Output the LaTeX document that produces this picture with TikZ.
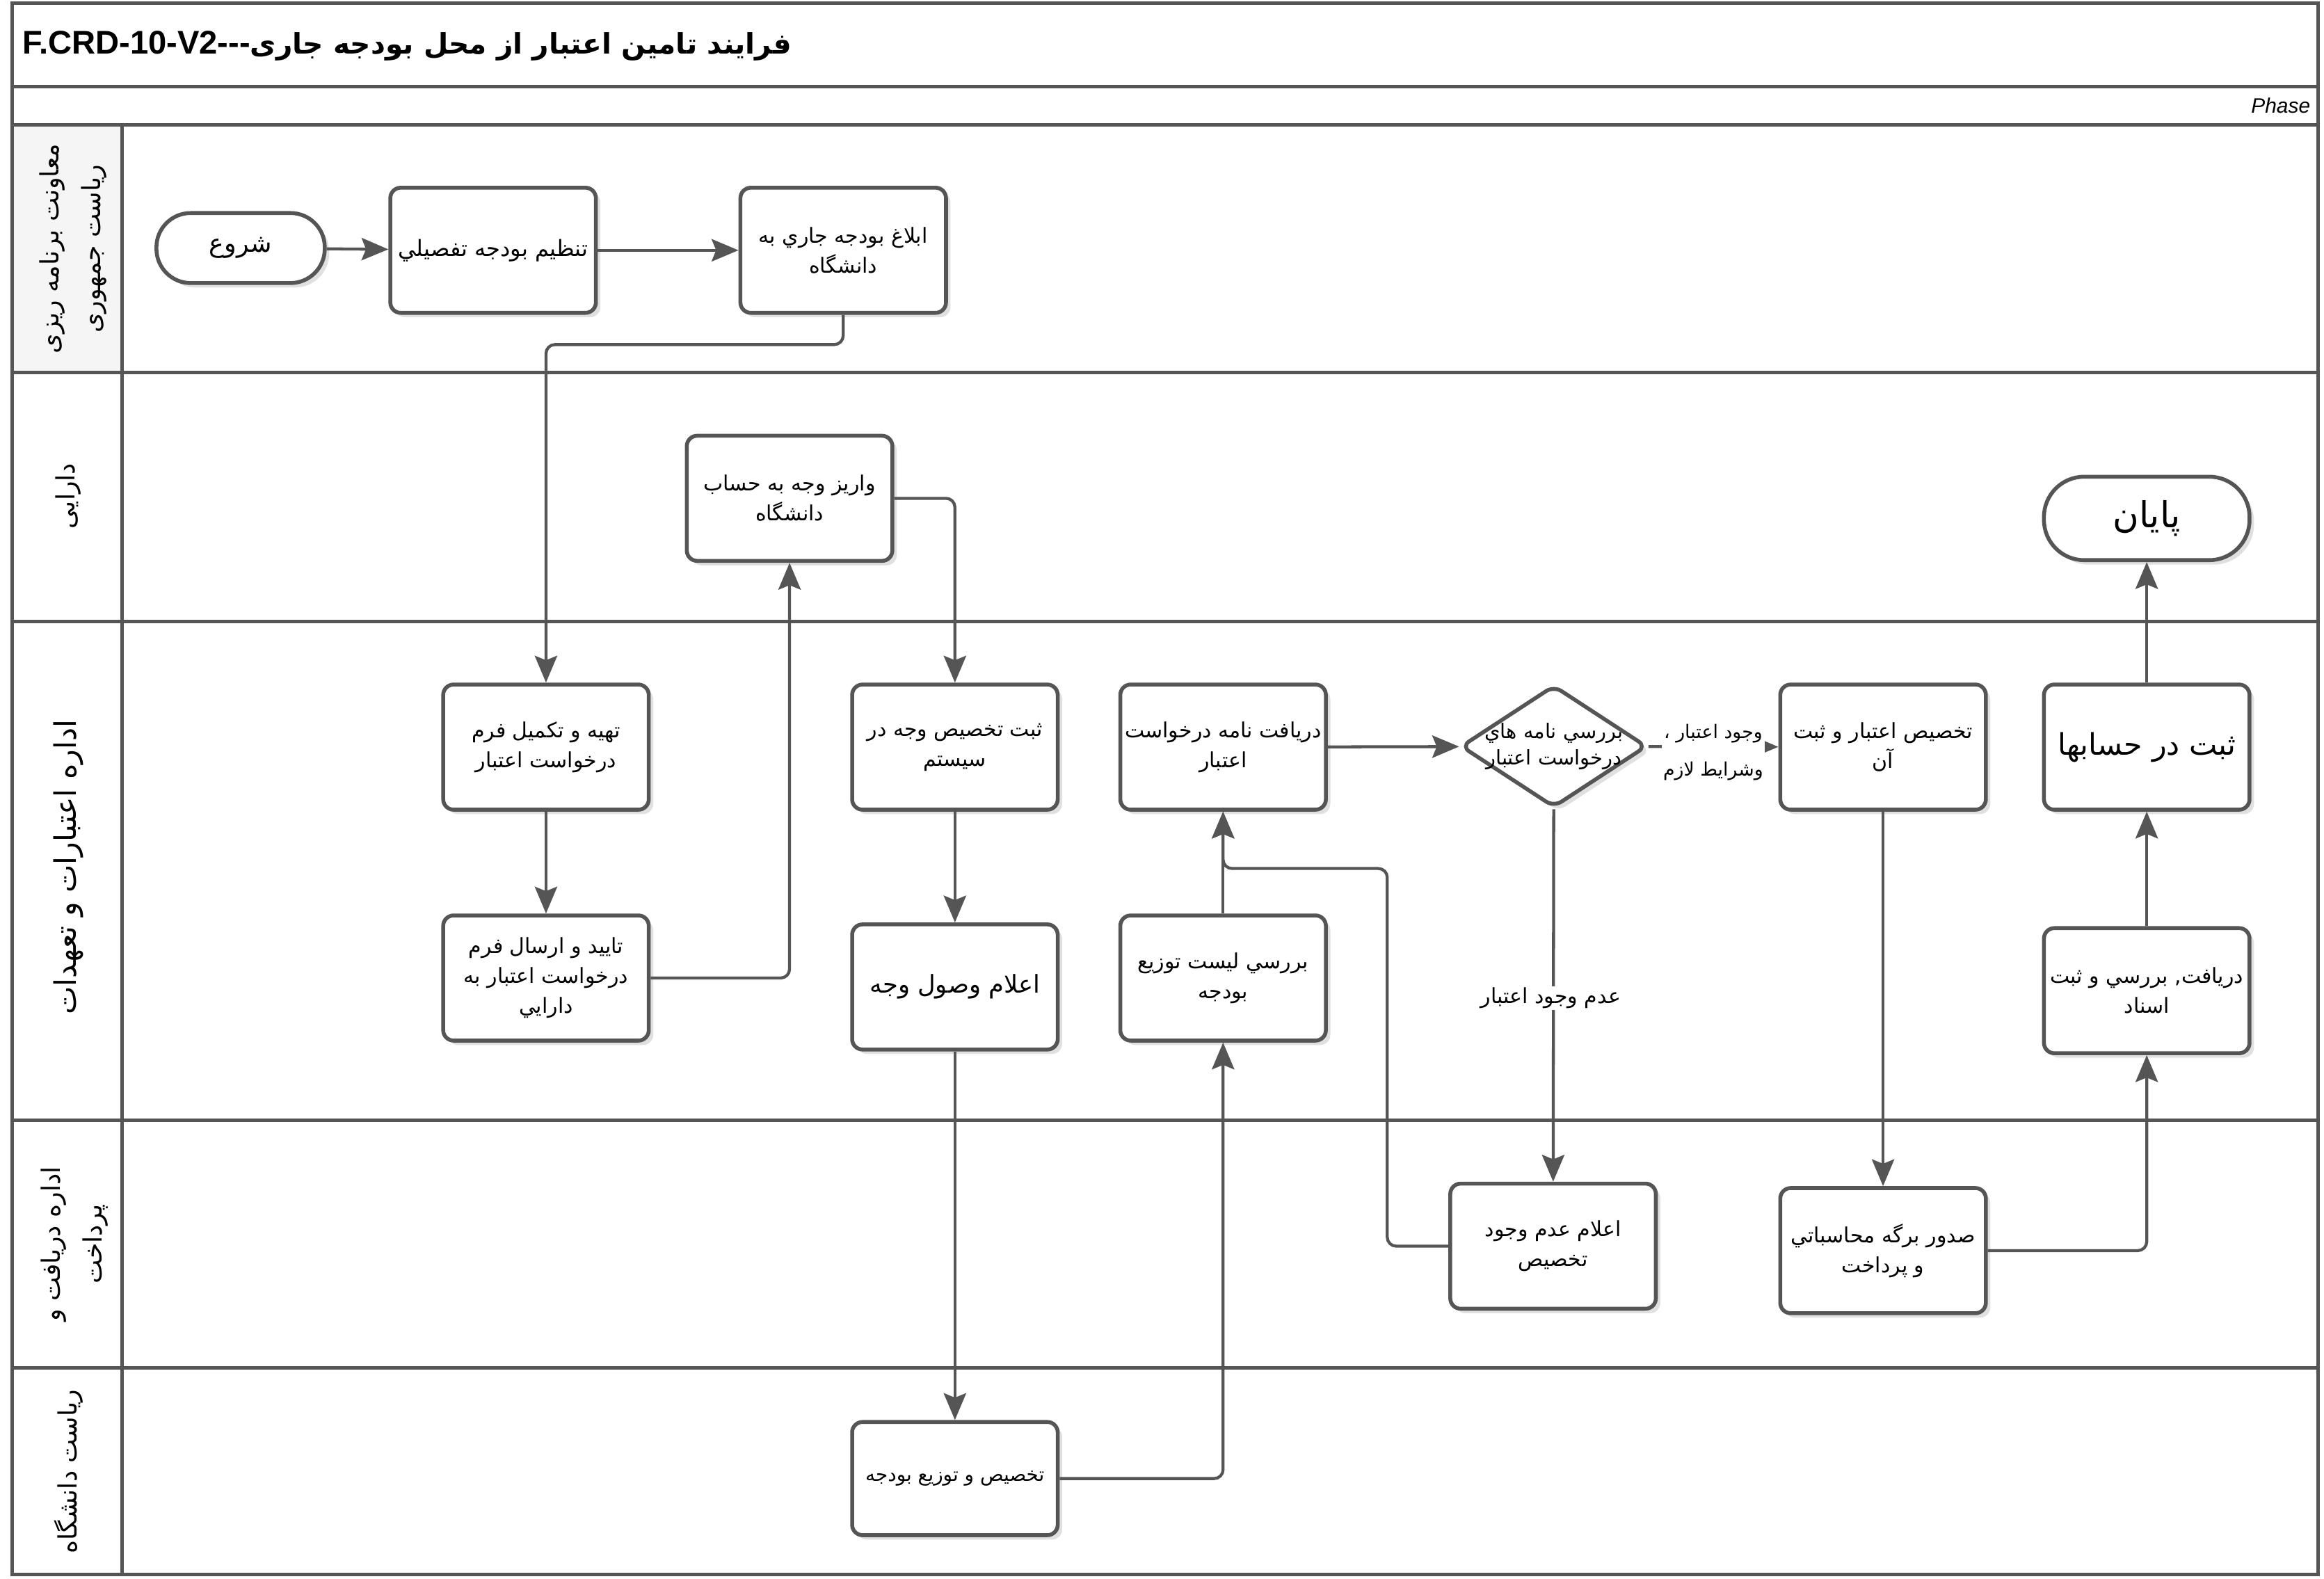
\documentclass[tikz,border=0pt]{standalone}
\usepackage{fontspec}
\setmainfont{Liberation Sans}
\newfontfamily\fa[Script=Arabic]{DejaVu Sans}
\TeXXeTstate=1
\usetikzlibrary{arrows.meta,shapes.geometric,shadows}
\newcommand\RL[1]{\beginR #1\endR}
\definecolor{lc}{RGB}{85,85,85}
\begin{document}
\begin{tikzpicture}[x=1pt,y=-1pt,
  frame/.style={draw=lc,line width=2.4pt},
  box/.style={rectangle,rounded corners=7pt,draw=lc,line width=2.6pt,fill=white,
    minimum width=138pt,minimum height=84pt,align=center,inner sep=1pt,
    font=\fa\fontsize{14}{20}\selectfont,
    drop shadow={shadow xshift=3pt,shadow yshift=-3pt,fill=black!12,opacity=1}},
  term/.style={box,minimum height=47pt,minimum width=113pt,rounded corners=23pt},
  dia/.style={diamond,draw=lc,line width=2.6pt,fill=white,rounded corners=6pt,
    minimum width=125pt,minimum height=82pt,inner sep=0pt,
    drop shadow={shadow xshift=3pt,shadow yshift=-3pt,fill=black!12,opacity=1}},
  arr/.style={draw=lc,line width=2pt,rounded corners=6pt,
    -{Stealth[length=18pt,width=15pt,inset=3pt]}},
  lanelbl/.style={rotate=90,align=center,font=\fa\fontsize{17}{20}\selectfont},
  lbl/.style={fill=white,align=center,inner sep=1pt,font=\fa\fontsize{12.5}{25}\selectfont}]
\useasboundingbox (0,0) rectangle (1560,1059.5);
% frame and lanes
\fill[white] (0,0) rectangle (1560,1059.5);
\fill[gray!8] (8,84) rectangle (82,250);
\draw[frame] (8,2) rectangle (1556,1057);
\draw[frame] (8,58) -- (1556,58);
\draw[frame] (8,84) -- (1556,84);
\draw[frame] (82,84) -- (82,1057);
\draw[frame] (8,250) -- (1556,250);
\draw[frame] (8,417) -- (1556,417);
\draw[frame] (8,752) -- (1556,752);
\draw[frame] (8,918) -- (1556,918);
% title
\node[anchor=west,inner sep=0pt,font=\bfseries\fontsize{22}{26}\selectfont] (title) at (15,31)
  {F.CRD-10-V2-{}-{}-{\fa\fontsize{19}{24}\selectfont\RL{فرایند تامین اعتبار از محل بودجه جاری}}};
\node[anchor=east,inner sep=0pt,font=\itshape\fontsize{14}{16}\selectfont] (phase) at (1551,71) {Phase};
% lane labels
\node[lanelbl] (L1) at (49,167) {\RL{معاونت برنامه ریزی}\\[8pt]\RL{ریاست جمهوری}};
\node[lanelbl] (L2) at (46,333) {\RL{دارایی}};
\node[lanelbl,font=\fa\fontsize{20}{24}\selectfont] (L3) at (46,582) {\RL{اداره اعتبارات و تعهدات}};
\node[lanelbl] (L4) at (50,835) {\RL{اداره دریافت و}\\[8pt]\RL{پرداخت}};
\node[lanelbl] (L5) at (46,988) {\RL{ریاست دانشگاه}};
% nodes
\node[term,font=\fa\fontsize{17}{20}\selectfont] (start) at (161.5,166.5) {\RL{شروع}};
\node[box,font=\fa\fontsize{15}{20}\selectfont] (tanzim) at (331,168) {\RL{تنظیم بودجه تفصيلي}};
\node[box] (eblagh) at (566,168) {\RL{ابلاغ بودجه جاري به}\\\RL{دانشگاه}};
\node[box] (variz) at (530,334.5) {\RL{واریز وجه به حساب}\\\RL{دانشگاه}};
\node[term,minimum width=138pt,minimum height=56pt,rounded corners=27pt,font=\fa\fontsize{24}{26}\selectfont] (payan) at (1441,348) {\RL{پایان}};
\node[box] (tahie) at (366.5,501.5) {\RL{تهیه و تکمیل فرم}\\\RL{درخواست اعتبار}};
\node[box] (sabt) at (641,501.5) {\RL{ثبت تخصیص وجه در}\\\RL{سیستم}};
\node[box] (daryaft) at (821,501.5) {\RL{دریافت نامه درخواست}\\\RL{اعتبار}};
\node[dia] (chk) at (1043,501) {};
\node[align=center,inner sep=0pt,font=\fa\fontsize{13.5}{18}\selectfont] (chkt) at (1043,501) {\RL{بررسي نامه هاي}\\\RL{درخواست اعتبار}};
\node[box] (takh) at (1264,501.5) {\RL{تخصیص اعتبار و ثبت}\\\RL{آن}};
\node[box,font=\fa\fontsize{20}{24}\selectfont] (hesab) at (1441,501.5) {\RL{ثبت در حسابها}};
\node[box] (taeed) at (366.5,656.5) {\RL{تاييد و ارسال فرم}\\\RL{درخواست اعتبار به}\\\RL{دارايي}};
\node[box,font=\fa\fontsize{16.5}{20}\selectfont] (vosul) at (641,662.5) {\RL{اعلام وصول وجه}};
\node[box] (barresi) at (821,656.5) {\RL{بررسي ليست توزيع}\\\RL{بودجه}};
\node[box] (asnad) at (1441,665) {\RL{دريافت, بررسي و ثبت}\\\RL{اسناد}};
\node[box] (adam) at (1042.5,836.5) {\RL{اعلام عدم وجود}\\\RL{تخصیص}};
\node[box] (sodur) at (1264,839.5) {\RL{صدور برگه محاسباتي}\\\RL{و پرداخت}};
\node[box,minimum height=76pt,font=\fa\fontsize{13}{16}\selectfont] (tavzi) at (641,992.5) {\RL{تخصیص و توزیع بودجه}};
\coordinate (j1) at (821,583);
% connectors
\draw[arr] (start) -- (tanzim);
\draw[arr] (tanzim) -- (eblagh);
\draw[arr] (eblagh.south) -- ++(0,20) -| (tahie.north);
\draw[arr] (tahie) -- (taeed);
\draw[arr] (taeed.east) -| (variz.south);
\draw[arr] (variz.east) -| (sabt.north);
\draw[arr] (sabt) -- (vosul);
\draw[arr] (vosul) -- (tavzi);
\draw[arr] (tavzi.east) -| (barresi.south);
\draw[arr] (barresi) -- (daryaft);
\draw[arr] (adam.west) -- ++(-41,0) |- (j1) -- (daryaft.south);
\draw[arr] (daryaft) -- (chk);
\draw[arr] (chk) -- (takh);
\draw[arr] (chk) -- (adam);
\draw[arr] (takh) -- (sodur);
\draw[arr] (sodur.east) -| (asnad.south);
\draw[arr] (asnad) -- (hesab);
\draw[arr] (hesab) -- (payan);
% connector labels
\node[lbl] (lyes) at (1150,505) {\RL{وجود اعتبار ،}\\\RL{وشرايط لازم}};
\node[lbl,font=\fa\fontsize{14}{16}\selectfont] (lno) at (1041,670) {\RL{عدم وجود اعتبار}};
\end{tikzpicture}
\end{document}
